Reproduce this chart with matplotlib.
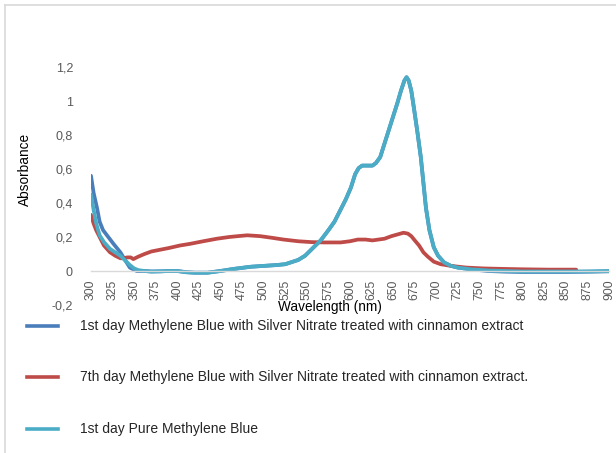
import matplotlib
matplotlib.use("Agg")
import matplotlib.pyplot as plt
from matplotlib.lines import Line2D

plt.rcParams['font.family'] = ['Liberation Sans', 'DejaVu Sans']

# ---- data ----
series_labels = [
    "1st day Methylene Blue with Silver Nitrate treated with cinnamon extract",
    "7th day Methylene Blue with Silver Nitrate treated with cinnamon extract.",
    "1st day Pure Methylene Blue",
]
series_colors = ["#4A7EBB", "#BE4B48", "#4BACC6"]

wl_blue = [300, 303, 307, 310, 314, 320, 326, 334, 340, 345, 353, 362, 370, 380, 390, 400,
           410, 420, 435, 450, 465, 485, 500, 515, 525, 540, 548, 556, 566, 575, 582, 589,
           595, 601, 606, 610, 614, 620, 626, 630, 635, 640, 645, 650, 655, 659, 663, 665.5,
           668, 671, 674, 678, 682, 685, 688, 692, 697, 702, 709, 717, 725, 740, 760, 780,
           800, 850, 880, 900]
abs_blue = [0.56, 0.46, 0.37, 0.29, 0.24, 0.20, 0.16, 0.11, 0.06, 0.02, 0.0, 0.0, -0.003,
            -0.002, 0.0, 0.0, -0.007, -0.01, -0.01, 0.0, 0.012, 0.025, 0.03, 0.035, 0.04,
            0.065, 0.09, 0.13, 0.18, 0.24, 0.29, 0.36, 0.42, 0.49, 0.57, 0.605, 0.62, 0.62,
            0.62, 0.635, 0.67, 0.75, 0.83, 0.91, 0.99, 1.06, 1.12, 1.14, 1.12, 1.06, 0.96,
            0.82, 0.67, 0.52, 0.37, 0.24, 0.14, 0.09, 0.05, 0.03, 0.02, 0.01, 0.0, -0.004,
            -0.006, -0.006, -0.004, -0.002]

wl_red = [300, 303, 306, 310, 315, 322, 328, 334, 338, 342, 346, 349, 355, 362, 370, 380,
          390, 403, 415, 430, 446, 460, 470, 481, 496, 510, 523, 540, 555, 570, 589, 600,
          609, 618, 626, 633, 640, 648, 655, 662, 667, 671, 675, 680, 685, 690, 697, 705,
          717, 735, 755, 780, 800, 830, 862]
abs_red = [0.33, 0.28, 0.24, 0.20, 0.15, 0.11, 0.09, 0.075, 0.075, 0.08, 0.08, 0.07, 0.085,
           0.10, 0.115, 0.125, 0.135, 0.15, 0.16, 0.175, 0.19, 0.20, 0.205, 0.21, 0.205,
           0.195, 0.185, 0.175, 0.17, 0.168, 0.168, 0.175, 0.185, 0.185, 0.18, 0.185, 0.19,
           0.205, 0.215, 0.225, 0.22, 0.205, 0.18, 0.15, 0.11, 0.085, 0.055, 0.04, 0.03,
           0.02, 0.015, 0.012, 0.01, 0.008, 0.008]

wl_cyan = [300, 303, 306, 310, 315, 322, 328, 334, 340, 345, 350, 355, 362, 370, 380, 390,
           400, 410, 420, 435, 450, 465, 485, 500, 515, 525, 540, 548, 556, 566, 575, 582,
           589, 595, 601, 606, 610, 614, 620, 626, 630, 635, 640, 645, 650, 655, 659, 663,
           665.5, 668, 671, 674, 678, 682, 685, 688, 692, 697, 702, 709, 717, 725, 740, 760,
           780, 800, 850, 880, 900]
abs_cyan = [0.45, 0.36, 0.28, 0.21, 0.17, 0.13, 0.11, 0.09, 0.06, 0.035, 0.015, 0.005, 0.0,
            -0.003, -0.002, 0.0, 0.0, -0.007, -0.01, -0.01, 0.0, 0.012, 0.025, 0.03, 0.035,
            0.04, 0.065, 0.09, 0.13, 0.18, 0.24, 0.29, 0.36, 0.42, 0.49, 0.57, 0.605, 0.62,
            0.62, 0.62, 0.635, 0.67, 0.75, 0.83, 0.91, 0.99, 1.06, 1.12, 1.14, 1.12, 1.06,
            0.96, 0.82, 0.67, 0.52, 0.37, 0.24, 0.14, 0.09, 0.05, 0.03, 0.02, 0.01, 0.003,
            0.0, -0.003, -0.003, -0.002, 0.0]

x_ticks = list(range(300, 901, 25))
y_ticks = [-0.2, 0.0, 0.2, 0.4, 0.6, 0.8, 1.0, 1.2]
y_tick_labels = ["-0,2", "0", "0,2", "0,4", "0,6", "0,8", "1", "1,2"]

# ---- figure ----
W, H = 616, 453
fig = plt.figure(figsize=(W / 100, H / 100), dpi=100)
fig.patch.set_facecolor("white")

def fx(px):
    return px / W

def fy(py):
    return 1 - py / H

# outer chart border (top and left visible)
fig.add_artist(Line2D([fx(5), fx(5)], [fy(5), fy(H + 5)], color="#d9d9d9", lw=1.2))
fig.add_artist(Line2D([fx(5), fx(W + 5)], [fy(5), fy(5)], color="#d9d9d9", lw=1.2))

ax = fig.add_axes([fx(91), fy(305), fx(609) - fx(91), fy(67) - fy(305)])
ax.set_facecolor("none")

for wl, ab, col in zip([wl_blue, wl_red, wl_cyan], [abs_blue, abs_red, abs_cyan], series_colors):
    ax.plot(wl, ab, color=col, lw=2.7, solid_capstyle="round", solid_joinstyle="round")

ax.set_xlim(300, 900)
ax.set_ylim(-0.2, 1.2)

for s in ["top", "right", "left"]:
    ax.spines[s].set_visible(False)
ax.spines["bottom"].set_position(("data", 0))
ax.spines["bottom"].set_color("#d9d9d9")
ax.spines["bottom"].set_linewidth(1.0)

ax.set_xticks(x_ticks)
ax.set_xticklabels([str(v) for v in x_ticks], rotation=90, fontsize=8.8, color="#595959")
ax.set_yticks(y_ticks)
ax.set_yticklabels(y_tick_labels, fontsize=9, color="#595959")
ax.tick_params(axis="x", length=0, pad=6)
ax.tick_params(axis="y", length=0, pad=13)

fig.text(fx(25), fy(169), "Absorbance", rotation=90, ha="center", va="center",
         fontsize=9.8, color="black")
fig.text(fx(330), fy(307), "Wavelength (nm)", ha="center", va="center",
         fontsize=9.8, color="black")

# legend
leg_y = [326, 377, 429]
for lab, col, yy in zip(series_labels, series_colors, leg_y):
    fig.add_artist(Line2D([fx(27), fx(58)], [fy(yy), fy(yy)], color=col, lw=2.6))
    fig.text(fx(80), fy(yy), lab, ha="left", va="center", fontsize=10, color="#262626")

fig.savefig("out.png", dpi=100, facecolor="white")
